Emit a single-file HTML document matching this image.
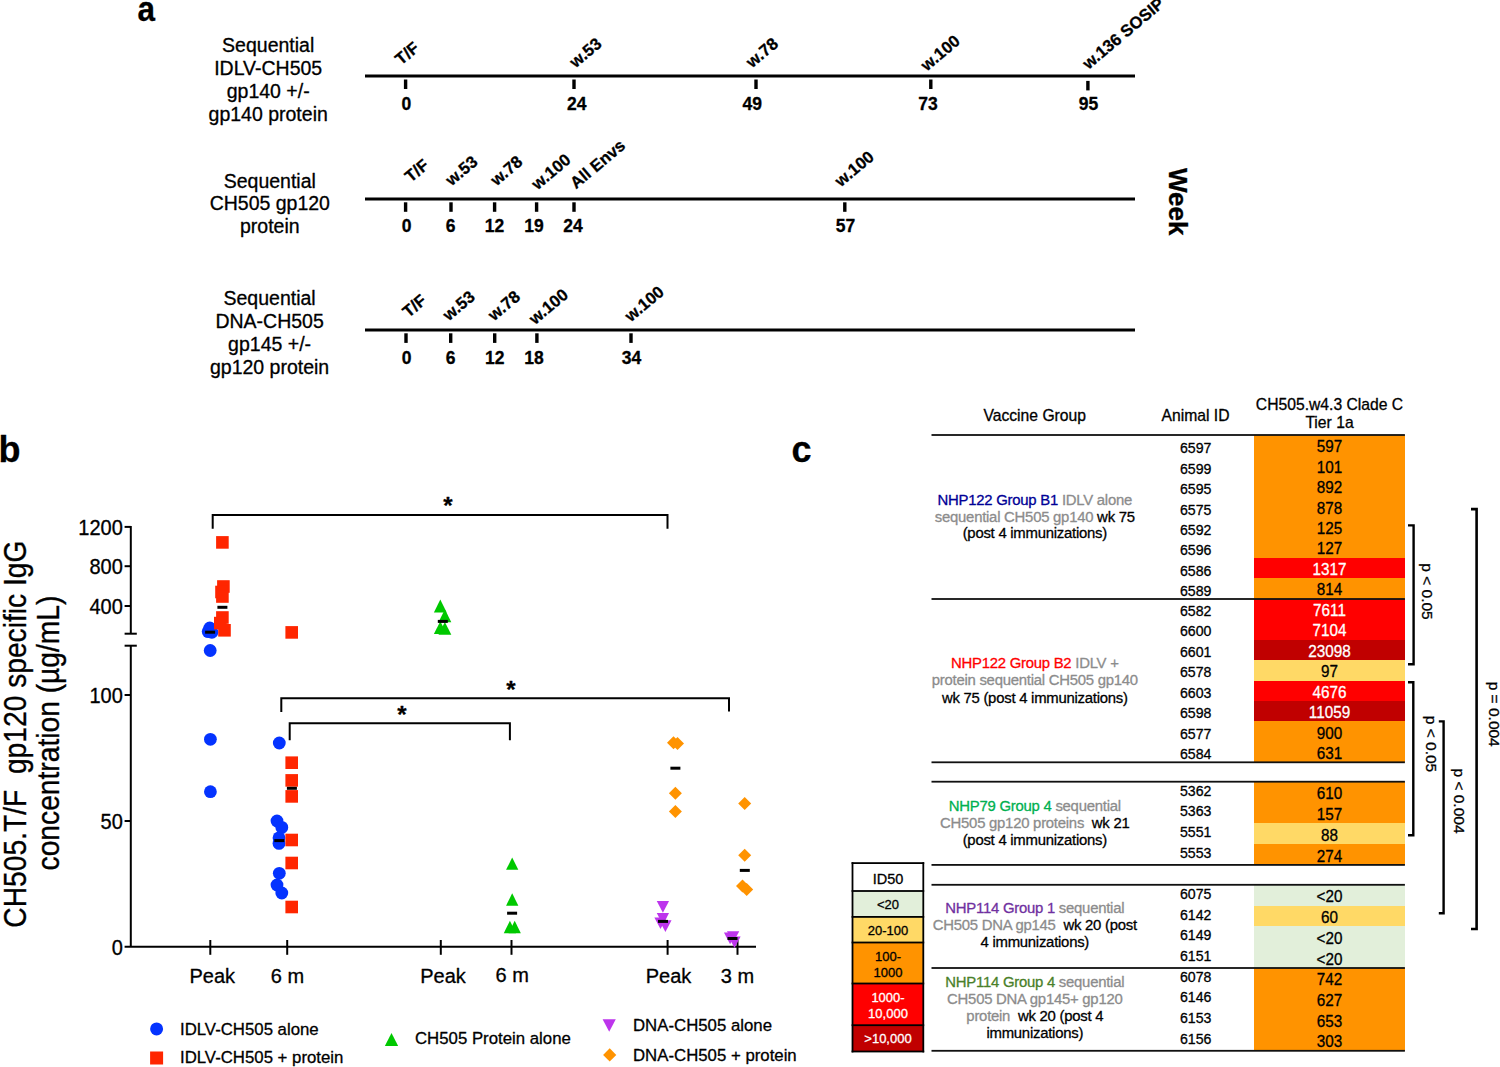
<!DOCTYPE html>
<html><head><meta charset="utf-8"><title>Figure</title>
<style>
html,body{margin:0;padding:0;background:#fff;width:1500px;height:1067px;overflow:hidden}
svg{display:block}
text{font-family:"Liberation Sans", sans-serif;stroke-linejoin:round}
</style></head>
<body>
<svg width="1500" height="1067" viewBox="0 0 1500 1067">
<rect x="0" y="0" width="1500" height="1067" fill="#fff"/>
<text transform="translate(137.6,21.2) scale(0.9,1)" font-size="35" font-weight="bold" fill="#000" stroke="#000" stroke-width="0.3">a</text>
<text x="268.2" y="51.8" font-size="19.5" text-anchor="middle" font-weight="normal" fill="#000" stroke="#000" stroke-width="0.3" >Sequential</text>
<text x="268.2" y="74.9" font-size="19.5" text-anchor="middle" font-weight="normal" fill="#000" stroke="#000" stroke-width="0.3" >IDLV-CH505</text>
<text x="268.2" y="98.0" font-size="19.5" text-anchor="middle" font-weight="normal" fill="#000" stroke="#000" stroke-width="0.3" >gp140 +/-</text>
<text x="268.2" y="121.1" font-size="19.5" text-anchor="middle" font-weight="normal" fill="#000" stroke="#000" stroke-width="0.3" >gp140 protein</text>
<text x="269.8" y="187.7" font-size="19.5" text-anchor="middle" font-weight="normal" fill="#000" stroke="#000" stroke-width="0.3" >Sequential</text>
<text x="269.8" y="210.3" font-size="19.5" text-anchor="middle" font-weight="normal" fill="#000" stroke="#000" stroke-width="0.3" >CH505 gp120</text>
<text x="269.8" y="232.9" font-size="19.5" text-anchor="middle" font-weight="normal" fill="#000" stroke="#000" stroke-width="0.3" >protein</text>
<text x="269.6" y="304.6" font-size="19.5" text-anchor="middle" font-weight="normal" fill="#000" stroke="#000" stroke-width="0.3" >Sequential</text>
<text x="269.6" y="327.6" font-size="19.5" text-anchor="middle" font-weight="normal" fill="#000" stroke="#000" stroke-width="0.3" >DNA-CH505</text>
<text x="269.6" y="350.6" font-size="19.5" text-anchor="middle" font-weight="normal" fill="#000" stroke="#000" stroke-width="0.3" >gp145 +/-</text>
<text x="269.6" y="373.6" font-size="19.5" text-anchor="middle" font-weight="normal" fill="#000" stroke="#000" stroke-width="0.3" >gp120 protein</text>
<rect x="365" y="74.5" width="770" height="3" fill="#000"/>
<rect x="365" y="197.5" width="770" height="3" fill="#000"/>
<rect x="365" y="328.5" width="770" height="3" fill="#000"/>
<rect x="403.9" y="79.5" width="3.4" height="9.5" fill="#000"/>
<text x="406.3" y="110.4" font-size="17.5" text-anchor="middle" font-weight="bold" fill="#000" stroke="#000" stroke-width="0.3" >0</text>
<text transform="translate(401.1,65.8) rotate(-40)" font-size="16.7" text-anchor="start" font-weight="bold" fill="#000" stroke="#000" stroke-width="0.3">T/F</text>
<rect x="572.3" y="79.5" width="3.4" height="9.5" fill="#000"/>
<text x="576.7" y="110.4" font-size="17.5" text-anchor="middle" font-weight="bold" fill="#000" stroke="#000" stroke-width="0.3" >24</text>
<text transform="translate(575.6,68.5) rotate(-40)" font-size="16.7" text-anchor="start" font-weight="bold" fill="#000" stroke="#000" stroke-width="0.3">w.53</text>
<rect x="754.3" y="79.5" width="3.4" height="9.5" fill="#000"/>
<text x="752.2" y="110.4" font-size="17.5" text-anchor="middle" font-weight="bold" fill="#000" stroke="#000" stroke-width="0.3" >49</text>
<text transform="translate(752.1,68.5) rotate(-40)" font-size="16.7" text-anchor="start" font-weight="bold" fill="#000" stroke="#000" stroke-width="0.3">w.78</text>
<rect x="929.1" y="79.5" width="3.4" height="9.5" fill="#000"/>
<text x="928" y="110.4" font-size="17.5" text-anchor="middle" font-weight="bold" fill="#000" stroke="#000" stroke-width="0.3" >73</text>
<text transform="translate(926.8,71.7) rotate(-40)" font-size="16.7" text-anchor="start" font-weight="bold" fill="#000" stroke="#000" stroke-width="0.3">w.100</text>
<rect x="1086.2" y="80.9" width="3.4" height="9.5" fill="#000"/>
<text x="1088.5" y="110.4" font-size="17.5" text-anchor="middle" font-weight="bold" fill="#000" stroke="#000" stroke-width="0.3" >95</text>
<text transform="translate(1088.4,70) rotate(-40)" font-size="16.7" text-anchor="start" font-weight="bold" fill="#000" stroke="#000" stroke-width="0.3">w.136 SOSIP</text>
<rect x="403.9" y="202.3" width="3.4" height="9.5" fill="#000"/>
<text x="406.5" y="232.4" font-size="17.5" text-anchor="middle" font-weight="bold" fill="#000" stroke="#000" stroke-width="0.3" >0</text>
<text transform="translate(410.8,183.1) rotate(-40)" font-size="16.7" text-anchor="start" font-weight="bold" fill="#000" stroke="#000" stroke-width="0.3">T/F</text>
<rect x="449.3" y="202.3" width="3.4" height="9.5" fill="#000"/>
<text x="450.5" y="232.4" font-size="17.5" text-anchor="middle" font-weight="bold" fill="#000" stroke="#000" stroke-width="0.3" >6</text>
<text transform="translate(451.6,186.5) rotate(-40)" font-size="16.7" text-anchor="start" font-weight="bold" fill="#000" stroke="#000" stroke-width="0.3">w.53</text>
<rect x="492.9" y="202.3" width="3.4" height="9.5" fill="#000"/>
<text x="494.6" y="232.4" font-size="17.5" text-anchor="middle" font-weight="bold" fill="#000" stroke="#000" stroke-width="0.3" >12</text>
<text transform="translate(496.4,186.5) rotate(-40)" font-size="16.7" text-anchor="start" font-weight="bold" fill="#000" stroke="#000" stroke-width="0.3">w.78</text>
<rect x="534.9" y="202.3" width="3.4" height="9.5" fill="#000"/>
<text x="534" y="232.4" font-size="17.5" text-anchor="middle" font-weight="bold" fill="#000" stroke="#000" stroke-width="0.3" >19</text>
<text transform="translate(537.6,190.4) rotate(-40)" font-size="16.7" text-anchor="start" font-weight="bold" fill="#000" stroke="#000" stroke-width="0.3">w.100</text>
<rect x="572.3" y="202.3" width="3.4" height="9.5" fill="#000"/>
<text x="573" y="232.4" font-size="17.5" text-anchor="middle" font-weight="bold" fill="#000" stroke="#000" stroke-width="0.3" >24</text>
<text transform="translate(576,189.6) rotate(-40)" font-size="16.7" text-anchor="start" font-weight="bold" fill="#000" stroke="#000" stroke-width="0.3">All Envs</text>
<rect x="843.1" y="202.3" width="3.4" height="9.5" fill="#000"/>
<text x="845.6" y="232.4" font-size="17.5" text-anchor="middle" font-weight="bold" fill="#000" stroke="#000" stroke-width="0.3" >57</text>
<text transform="translate(840.8,187.5) rotate(-40)" font-size="16.7" text-anchor="start" font-weight="bold" fill="#000" stroke="#000" stroke-width="0.3">w.100</text>
<rect x="404.3" y="333.3" width="3.4" height="9.6" fill="#000"/>
<text x="406.5" y="364" font-size="17.5" text-anchor="middle" font-weight="bold" fill="#000" stroke="#000" stroke-width="0.3" >0</text>
<text transform="translate(408.4,318.2) rotate(-40)" font-size="16.7" text-anchor="start" font-weight="bold" fill="#000" stroke="#000" stroke-width="0.3">T/F</text>
<rect x="449.0" y="333.3" width="3.4" height="9.6" fill="#000"/>
<text x="450.5" y="364" font-size="17.5" text-anchor="middle" font-weight="bold" fill="#000" stroke="#000" stroke-width="0.3" >6</text>
<text transform="translate(448.8,321.4) rotate(-40)" font-size="16.7" text-anchor="start" font-weight="bold" fill="#000" stroke="#000" stroke-width="0.3">w.53</text>
<rect x="493.0" y="333.3" width="3.4" height="9.6" fill="#000"/>
<text x="494.7" y="364" font-size="17.5" text-anchor="middle" font-weight="bold" fill="#000" stroke="#000" stroke-width="0.3" >12</text>
<text transform="translate(494.1,321.4) rotate(-40)" font-size="16.7" text-anchor="start" font-weight="bold" fill="#000" stroke="#000" stroke-width="0.3">w.78</text>
<rect x="535.2" y="333.3" width="3.4" height="9.6" fill="#000"/>
<text x="534" y="364" font-size="17.5" text-anchor="middle" font-weight="bold" fill="#000" stroke="#000" stroke-width="0.3" >18</text>
<text transform="translate(534.9,325.3) rotate(-40)" font-size="16.7" text-anchor="start" font-weight="bold" fill="#000" stroke="#000" stroke-width="0.3">w.100</text>
<rect x="629.3" y="333.3" width="3.4" height="9.6" fill="#000"/>
<text x="631.5" y="364" font-size="17.5" text-anchor="middle" font-weight="bold" fill="#000" stroke="#000" stroke-width="0.3" >34</text>
<text transform="translate(630.8,322.5) rotate(-40)" font-size="16.7" text-anchor="start" font-weight="bold" fill="#000" stroke="#000" stroke-width="0.3">w.100</text>
<text transform="translate(1168.5,168) rotate(90)" font-size="26" text-anchor="start" font-weight="bold" fill="#000" stroke="#000" stroke-width="0.3">Week</text>
<text x="-1.5" y="461.5" font-size="36" text-anchor="start" font-weight="bold" fill="#000" stroke="#000" stroke-width="0.3" >b</text>
<line x1="130.8" y1="526" x2="130.8" y2="633.7" stroke="#000" stroke-width="2" stroke-linecap="butt"/>
<line x1="124.6" y1="526.9" x2="130.8" y2="526.9" stroke="#000" stroke-width="2" stroke-linecap="butt"/>
<line x1="124.6" y1="566.2" x2="130.8" y2="566.2" stroke="#000" stroke-width="2" stroke-linecap="butt"/>
<line x1="124.6" y1="606" x2="130.8" y2="606" stroke="#000" stroke-width="2" stroke-linecap="butt"/>
<line x1="124.6" y1="633.7" x2="136.8" y2="633.7" stroke="#000" stroke-width="2" stroke-linecap="butt"/>
<line x1="124.6" y1="645.7" x2="136.8" y2="645.7" stroke="#000" stroke-width="2" stroke-linecap="butt"/>
<line x1="130.8" y1="645.7" x2="130.8" y2="947" stroke="#000" stroke-width="2" stroke-linecap="butt"/>
<line x1="124.6" y1="695" x2="130.8" y2="695" stroke="#000" stroke-width="2" stroke-linecap="butt"/>
<line x1="124.6" y1="821" x2="130.8" y2="821" stroke="#000" stroke-width="2" stroke-linecap="butt"/>
<line x1="124.6" y1="946.7" x2="756" y2="946.7" stroke="#000" stroke-width="2" stroke-linecap="butt"/>
<line x1="210.3" y1="940" x2="210.3" y2="954.8" stroke="#000" stroke-width="2" stroke-linecap="butt"/>
<line x1="287.2" y1="940" x2="287.2" y2="954.8" stroke="#000" stroke-width="2" stroke-linecap="butt"/>
<line x1="440.8" y1="940" x2="440.8" y2="954.8" stroke="#000" stroke-width="2" stroke-linecap="butt"/>
<line x1="511.5" y1="940" x2="511.5" y2="954.8" stroke="#000" stroke-width="2" stroke-linecap="butt"/>
<line x1="667.6" y1="940" x2="667.6" y2="954.8" stroke="#000" stroke-width="2" stroke-linecap="butt"/>
<line x1="737.5" y1="940" x2="737.5" y2="954.8" stroke="#000" stroke-width="2" stroke-linecap="butt"/>
<text transform="translate(122.8,534.90) scale(1,1.07)" font-size="20" text-anchor="end" stroke="#000" stroke-width="0.3">1200</text>
<text transform="translate(122.8,574.20) scale(1,1.07)" font-size="20" text-anchor="end" stroke="#000" stroke-width="0.3">800</text>
<text transform="translate(122.8,614.00) scale(1,1.07)" font-size="20" text-anchor="end" stroke="#000" stroke-width="0.3">400</text>
<text transform="translate(122.8,703.00) scale(1,1.07)" font-size="20" text-anchor="end" stroke="#000" stroke-width="0.3">100</text>
<text transform="translate(122.8,829.00) scale(1,1.07)" font-size="20" text-anchor="end" stroke="#000" stroke-width="0.3">50</text>
<text transform="translate(122.8,954.50) scale(1,1.07)" font-size="20" text-anchor="end" stroke="#000" stroke-width="0.3">0</text>
<text x="212.3" y="983" font-size="20" text-anchor="middle" font-weight="normal" fill="#000" stroke="#000" stroke-width="0.3" >Peak</text>
<text x="287.5" y="983" font-size="20" text-anchor="middle" font-weight="normal" fill="#000" stroke="#000" stroke-width="0.3" >6 m</text>
<text x="443" y="983" font-size="20" text-anchor="middle" font-weight="normal" fill="#000" stroke="#000" stroke-width="0.3" >Peak</text>
<text x="512.2" y="981.5" font-size="20" text-anchor="middle" font-weight="normal" fill="#000" stroke="#000" stroke-width="0.3" >6 m</text>
<text x="668.5" y="983" font-size="20" text-anchor="middle" font-weight="normal" fill="#000" stroke="#000" stroke-width="0.3" >Peak</text>
<text x="737.5" y="983" font-size="20" text-anchor="middle" font-weight="normal" fill="#000" stroke="#000" stroke-width="0.3" >3 m</text>
<text transform="translate(26.4,734.1) rotate(-90) scale(0.91,1)" font-size="31" text-anchor="middle" stroke="#000" stroke-width="0.35">CH505.T/F&#160;&#160;gp120 specific IgG</text>
<text transform="translate(58.8,733) rotate(-90) scale(0.91,1)" font-size="31" text-anchor="middle" stroke="#000" stroke-width="0.35">concentration (µg/mL)</text>
<circle cx="209.8" cy="628" r="6.4" fill="#0433FF"/>
<circle cx="208.2" cy="631.6" r="6.4" fill="#0433FF"/>
<circle cx="211.9" cy="632.3" r="6.4" fill="#0433FF"/>
<circle cx="210.2" cy="650.5" r="6.4" fill="#0433FF"/>
<circle cx="210.4" cy="739.3" r="6.4" fill="#0433FF"/>
<circle cx="210.4" cy="791.7" r="6.4" fill="#0433FF"/>
<rect x="216.1" y="536.1" width="12.6" height="12.6" fill="#FF2600"/>
<rect x="217.1" y="580.2" width="12.6" height="12.6" fill="#FF2600"/>
<rect x="215.2" y="585.7" width="12.6" height="12.6" fill="#FF2600"/>
<rect x="216.1" y="590.2" width="12.6" height="12.6" fill="#FF2600"/>
<rect x="216.1" y="611.2" width="12.6" height="12.6" fill="#FF2600"/>
<rect x="214.0" y="616.8" width="12.6" height="12.6" fill="#FF2600"/>
<rect x="218.2" y="624.0" width="12.6" height="12.6" fill="#FF2600"/>
<rect x="217.4" y="605.8" width="10" height="3" fill="#000"/>
<rect x="205.1" y="630.7" width="10" height="3" fill="#000"/>
<circle cx="279.3" cy="743" r="6.4" fill="#0433FF"/>
<circle cx="277" cy="821" r="6.4" fill="#0433FF"/>
<circle cx="281.8" cy="827.4" r="6.4" fill="#0433FF"/>
<circle cx="279" cy="837.8" r="6.4" fill="#0433FF"/>
<circle cx="279" cy="843.4" r="6.4" fill="#0433FF"/>
<circle cx="279.3" cy="873.3" r="6.4" fill="#0433FF"/>
<circle cx="277" cy="885" r="6.4" fill="#0433FF"/>
<circle cx="281.8" cy="893" r="6.4" fill="#0433FF"/>
<rect x="285.4" y="626.1" width="12.6" height="12.6" fill="#FF2600"/>
<rect x="285.4" y="756.4" width="12.6" height="12.6" fill="#FF2600"/>
<rect x="285.4" y="774.1" width="12.6" height="12.6" fill="#FF2600"/>
<rect x="285.4" y="790.1" width="12.6" height="12.6" fill="#FF2600"/>
<rect x="285.4" y="833.7" width="12.6" height="12.6" fill="#FF2600"/>
<rect x="285.4" y="856.7" width="12.6" height="12.6" fill="#FF2600"/>
<rect x="285.4" y="900.7" width="12.6" height="12.6" fill="#FF2600"/>
<rect x="274.3" y="839.1" width="10" height="3" fill="#000"/>
<rect x="286.9" y="786.8" width="10" height="3" fill="#000"/>
<polygon points="440.30,599.60 446.70,612.50 433.90,612.50" fill="#00C800"/>
<polygon points="444.90,609.30 451.30,622.20 438.50,622.20" fill="#00C800"/>
<polygon points="440.30,621.20 446.70,634.10 433.90,634.10" fill="#00C800"/>
<polygon points="444.90,621.90 451.30,634.80 438.50,634.80" fill="#00C800"/>
<rect x="437.8" y="619.9" width="10" height="3" fill="#000"/>
<polygon points="512.20,857.55 518.35,869.85 506.05,869.85" fill="#00C800"/>
<polygon points="512.20,893.35 518.35,905.65 506.05,905.65" fill="#00C800"/>
<polygon points="509.90,920.85 516.05,933.15 503.75,933.15" fill="#00C800"/>
<polygon points="514.70,920.85 520.85,933.15 508.55,933.15" fill="#00C800"/>
<rect x="507.1" y="911.7" width="10" height="3" fill="#000"/>
<polygon points="656.75,901.10 669.05,901.10 662.90,912.70" fill="#BD35EC"/>
<polygon points="656.75,913.10 669.05,913.10 662.90,924.70" fill="#BD35EC"/>
<polygon points="654.35,917.50 666.65,917.50 660.50,929.10" fill="#BD35EC"/>
<polygon points="659.25,920.30 671.55,920.30 665.40,931.90" fill="#BD35EC"/>
<rect x="658.0" y="919.9" width="10" height="3" fill="#000"/>
<polygon points="673.50,736.20 680.00,742.70 673.50,749.20 667.00,742.70" fill="#FF9300"/>
<polygon points="677.50,737.00 684.00,743.50 677.50,750.00 671.00,743.50" fill="#FF9300"/>
<polygon points="675.40,786.80 681.90,793.30 675.40,799.80 668.90,793.30" fill="#FF9300"/>
<polygon points="675.40,804.90 681.90,811.40 675.40,817.90 668.90,811.40" fill="#FF9300"/>
<rect x="670.4" y="766.7" width="10" height="3" fill="#000"/>
<polygon points="726.95,931.20 739.25,931.20 733.10,942.80" fill="#BD35EC"/>
<polygon points="723.95,932.60 736.25,932.60 730.10,944.20" fill="#BD35EC"/>
<polygon points="728.35,936.50 740.65,936.50 734.50,948.10" fill="#BD35EC"/>
<rect x="727.5" y="937.0" width="10" height="3" fill="#000"/>
<polygon points="744.70,797.00 751.20,803.50 744.70,810.00 738.20,803.50" fill="#FF9300"/>
<polygon points="744.70,848.70 751.20,855.20 744.70,861.70 738.20,855.20" fill="#FF9300"/>
<polygon points="742.50,879.40 749.00,885.90 742.50,892.40 736.00,885.90" fill="#FF9300"/>
<polygon points="746.70,883.10 753.20,889.60 746.70,896.10 740.20,889.60" fill="#FF9300"/>
<rect x="739.8" y="868.9" width="10" height="3" fill="#000"/>
<path d="M212.7,528.7 V515 H667.5 V528.7" fill="none" stroke="#000" stroke-width="2" stroke-linejoin="miter" stroke-linecap="butt"/>
<text x="447.8" y="514.2" font-size="24" text-anchor="middle" font-weight="bold" fill="#000" stroke="#000" stroke-width="0.3" >*</text>
<path d="M281.3,712 V698.3 H729 V711.6" fill="none" stroke="#000" stroke-width="2" stroke-linejoin="miter" stroke-linecap="butt"/>
<text x="511" y="698.2" font-size="24" text-anchor="middle" font-weight="bold" fill="#000" stroke="#000" stroke-width="0.3" >*</text>
<path d="M289.7,740.3 V723.3 H509.9 V740.3" fill="none" stroke="#000" stroke-width="2" stroke-linejoin="miter" stroke-linecap="butt"/>
<text x="401.8" y="723.2" font-size="24" text-anchor="middle" font-weight="bold" fill="#000" stroke="#000" stroke-width="0.3" >*</text>
<circle cx="156.6" cy="1028.9" r="6.5" fill="#0433FF"/>
<text x="180" y="1034.5" font-size="16.8" text-anchor="start" font-weight="normal" fill="#000" stroke="#000" stroke-width="0.3" >IDLV-CH505 alone</text>
<rect x="150.1" y="1051.5" width="13" height="13" fill="#FF2600"/>
<text x="180" y="1062.9" font-size="16.8" text-anchor="start" font-weight="normal" fill="#000" stroke="#000" stroke-width="0.3" >IDLV-CH505 + protein</text>
<polygon points="391.50,1033.00 398.15,1046.00 384.85,1046.00" fill="#00C800"/>
<text x="415" y="1044.4" font-size="16.8" text-anchor="start" font-weight="normal" fill="#000" stroke="#000" stroke-width="0.3" >CH505 Protein alone</text>
<polygon points="602.60,1019.15 615.80,1019.15 609.20,1031.65" fill="#BD35EC"/>
<text x="633" y="1031.3" font-size="16.8" text-anchor="start" font-weight="normal" fill="#000" stroke="#000" stroke-width="0.3" >DNA-CH505 alone</text>
<polygon points="609.70,1048.30 616.30,1054.90 609.70,1061.50 603.10,1054.90" fill="#FF9300"/>
<text x="633" y="1060.8" font-size="16.8" text-anchor="start" font-weight="normal" fill="#000" stroke="#000" stroke-width="0.3" >DNA-CH505 + protein</text>
<text x="791.5" y="462.1" font-size="36" text-anchor="start" font-weight="bold" fill="#000" stroke="#000" stroke-width="0.3" >c</text>
<text x="1034.7" y="420.7" font-size="15.7" text-anchor="middle" font-weight="normal" fill="#000" stroke="#000" stroke-width="0.3" >Vaccine Group</text>
<text x="1195.5" y="420.6" font-size="15.7" text-anchor="middle" font-weight="normal" fill="#000" stroke="#000" stroke-width="0.3" >Animal ID</text>
<text x="1329.5" y="409.8" font-size="15.7" text-anchor="middle" font-weight="normal" fill="#000" stroke="#000" stroke-width="0.3" >CH505.w4.3 Clade C</text>
<text x="1329.5" y="428.3" font-size="15.7" text-anchor="middle" font-weight="normal" fill="#000" stroke="#000" stroke-width="0.3" >Tier 1a</text>
<rect x="1254.2" y="434.80" width="150.70" height="122.93" fill="#FF9300" shape-rendering="crispEdges"/>
<rect x="1254.2" y="557.73" width="150.70" height="20.49" fill="#FF0000" shape-rendering="crispEdges"/>
<rect x="1254.2" y="578.21" width="150.70" height="20.49" fill="#FF9300" shape-rendering="crispEdges"/>
<text transform="translate(1195.65,453.04) scale(0.925,1)" font-size="15.3" text-anchor="middle" stroke="#000" stroke-width="0.3">6597</text>
<text transform="translate(1329.5,452.04) scale(0.92,1)" font-size="16.6" text-anchor="middle" fill="#000" stroke="#000" stroke-width="0.3">597</text>
<text transform="translate(1195.65,473.53) scale(0.925,1)" font-size="15.3" text-anchor="middle" stroke="#000" stroke-width="0.3">6599</text>
<text transform="translate(1329.5,472.53) scale(0.92,1)" font-size="16.6" text-anchor="middle" fill="#000" stroke="#000" stroke-width="0.3">101</text>
<text transform="translate(1195.65,494.02) scale(0.925,1)" font-size="15.3" text-anchor="middle" stroke="#000" stroke-width="0.3">6595</text>
<text transform="translate(1329.5,493.02) scale(0.92,1)" font-size="16.6" text-anchor="middle" fill="#000" stroke="#000" stroke-width="0.3">892</text>
<text transform="translate(1195.65,514.51) scale(0.925,1)" font-size="15.3" text-anchor="middle" stroke="#000" stroke-width="0.3">6575</text>
<text transform="translate(1329.5,513.51) scale(0.92,1)" font-size="16.6" text-anchor="middle" fill="#000" stroke="#000" stroke-width="0.3">878</text>
<text transform="translate(1195.65,534.99) scale(0.925,1)" font-size="15.3" text-anchor="middle" stroke="#000" stroke-width="0.3">6592</text>
<text transform="translate(1329.5,533.99) scale(0.92,1)" font-size="16.6" text-anchor="middle" fill="#000" stroke="#000" stroke-width="0.3">125</text>
<text transform="translate(1195.65,555.48) scale(0.925,1)" font-size="15.3" text-anchor="middle" stroke="#000" stroke-width="0.3">6596</text>
<text transform="translate(1329.5,554.48) scale(0.92,1)" font-size="16.6" text-anchor="middle" fill="#000" stroke="#000" stroke-width="0.3">127</text>
<text transform="translate(1195.65,575.97) scale(0.925,1)" font-size="15.3" text-anchor="middle" stroke="#000" stroke-width="0.3">6586</text>
<text transform="translate(1329.5,574.97) scale(0.92,1)" font-size="16.6" text-anchor="middle" fill="#fff" stroke="#fff" stroke-width="0.3">1317</text>
<text transform="translate(1195.65,596.46) scale(0.925,1)" font-size="15.3" text-anchor="middle" stroke="#000" stroke-width="0.3">6589</text>
<text transform="translate(1329.5,595.46) scale(0.92,1)" font-size="16.6" text-anchor="middle" fill="#000" stroke="#000" stroke-width="0.3">814</text>
<rect x="1254.2" y="598.70" width="150.70" height="40.90" fill="#FF0000" shape-rendering="crispEdges"/>
<rect x="1254.2" y="639.60" width="150.70" height="20.45" fill="#C00000" shape-rendering="crispEdges"/>
<rect x="1254.2" y="660.05" width="150.70" height="20.45" fill="#FFD966" shape-rendering="crispEdges"/>
<rect x="1254.2" y="680.50" width="150.70" height="20.45" fill="#FF0000" shape-rendering="crispEdges"/>
<rect x="1254.2" y="700.95" width="150.70" height="20.45" fill="#C00000" shape-rendering="crispEdges"/>
<rect x="1254.2" y="721.40" width="150.70" height="40.90" fill="#FF9300" shape-rendering="crispEdges"/>
<text transform="translate(1195.65,616.03) scale(0.925,1)" font-size="15.3" text-anchor="middle" stroke="#000" stroke-width="0.3">6582</text>
<text transform="translate(1329.5,615.93) scale(0.92,1)" font-size="16.6" text-anchor="middle" fill="#fff" stroke="#fff" stroke-width="0.3">7611</text>
<text transform="translate(1195.65,636.48) scale(0.925,1)" font-size="15.3" text-anchor="middle" stroke="#000" stroke-width="0.3">6600</text>
<text transform="translate(1329.5,636.38) scale(0.92,1)" font-size="16.6" text-anchor="middle" fill="#fff" stroke="#fff" stroke-width="0.3">7104</text>
<text transform="translate(1195.65,656.93) scale(0.925,1)" font-size="15.3" text-anchor="middle" stroke="#000" stroke-width="0.3">6601</text>
<text transform="translate(1329.5,656.83) scale(0.92,1)" font-size="16.6" text-anchor="middle" fill="#fff" stroke="#fff" stroke-width="0.3">23098</text>
<text transform="translate(1195.65,677.38) scale(0.925,1)" font-size="15.3" text-anchor="middle" stroke="#000" stroke-width="0.3">6578</text>
<text transform="translate(1329.5,677.27) scale(0.92,1)" font-size="16.6" text-anchor="middle" fill="#000" stroke="#000" stroke-width="0.3">97</text>
<text transform="translate(1195.65,697.83) scale(0.925,1)" font-size="15.3" text-anchor="middle" stroke="#000" stroke-width="0.3">6603</text>
<text transform="translate(1329.5,697.73) scale(0.92,1)" font-size="16.6" text-anchor="middle" fill="#fff" stroke="#fff" stroke-width="0.3">4676</text>
<text transform="translate(1195.65,718.27) scale(0.925,1)" font-size="15.3" text-anchor="middle" stroke="#000" stroke-width="0.3">6598</text>
<text transform="translate(1329.5,718.17) scale(0.92,1)" font-size="16.6" text-anchor="middle" fill="#fff" stroke="#fff" stroke-width="0.3">11059</text>
<text transform="translate(1195.65,738.73) scale(0.925,1)" font-size="15.3" text-anchor="middle" stroke="#000" stroke-width="0.3">6577</text>
<text transform="translate(1329.5,738.62) scale(0.92,1)" font-size="16.6" text-anchor="middle" fill="#000" stroke="#000" stroke-width="0.3">900</text>
<text transform="translate(1195.65,759.17) scale(0.925,1)" font-size="15.3" text-anchor="middle" stroke="#000" stroke-width="0.3">6584</text>
<text transform="translate(1329.5,759.07) scale(0.92,1)" font-size="16.6" text-anchor="middle" fill="#000" stroke="#000" stroke-width="0.3">631</text>
<rect x="1254.2" y="781.70" width="150.70" height="41.60" fill="#FF9300" shape-rendering="crispEdges"/>
<rect x="1254.2" y="823.30" width="150.70" height="20.80" fill="#FFD966" shape-rendering="crispEdges"/>
<rect x="1254.2" y="844.10" width="150.70" height="20.80" fill="#FF9300" shape-rendering="crispEdges"/>
<text transform="translate(1195.65,795.60) scale(0.925,1)" font-size="15.3" text-anchor="middle" stroke="#000" stroke-width="0.3">5362</text>
<text transform="translate(1329.5,799.10) scale(0.92,1)" font-size="16.6" text-anchor="middle" fill="#000" stroke="#000" stroke-width="0.3">610</text>
<text transform="translate(1195.65,816.40) scale(0.925,1)" font-size="15.3" text-anchor="middle" stroke="#000" stroke-width="0.3">5363</text>
<text transform="translate(1329.5,819.90) scale(0.92,1)" font-size="16.6" text-anchor="middle" fill="#000" stroke="#000" stroke-width="0.3">157</text>
<text transform="translate(1195.65,837.20) scale(0.925,1)" font-size="15.3" text-anchor="middle" stroke="#000" stroke-width="0.3">5551</text>
<text transform="translate(1329.5,840.70) scale(0.92,1)" font-size="16.6" text-anchor="middle" fill="#000" stroke="#000" stroke-width="0.3">88</text>
<text transform="translate(1195.65,858.00) scale(0.925,1)" font-size="15.3" text-anchor="middle" stroke="#000" stroke-width="0.3">5553</text>
<text transform="translate(1329.5,861.50) scale(0.92,1)" font-size="16.6" text-anchor="middle" fill="#000" stroke="#000" stroke-width="0.3">274</text>
<rect x="1254.2" y="884.80" width="150.70" height="20.80" fill="#E2EFDA" shape-rendering="crispEdges"/>
<rect x="1254.2" y="905.60" width="150.70" height="20.80" fill="#FFD966" shape-rendering="crispEdges"/>
<rect x="1254.2" y="926.40" width="150.70" height="41.60" fill="#E2EFDA" shape-rendering="crispEdges"/>
<text transform="translate(1195.65,898.70) scale(0.925,1)" font-size="15.3" text-anchor="middle" stroke="#000" stroke-width="0.3">6075</text>
<text transform="translate(1329.5,902.20) scale(0.92,1)" font-size="16.6" text-anchor="middle" fill="#000" stroke="#000" stroke-width="0.3">&lt;20</text>
<text transform="translate(1195.65,919.50) scale(0.925,1)" font-size="15.3" text-anchor="middle" stroke="#000" stroke-width="0.3">6142</text>
<text transform="translate(1329.5,923.00) scale(0.92,1)" font-size="16.6" text-anchor="middle" fill="#000" stroke="#000" stroke-width="0.3">60</text>
<text transform="translate(1195.65,940.30) scale(0.925,1)" font-size="15.3" text-anchor="middle" stroke="#000" stroke-width="0.3">6149</text>
<text transform="translate(1329.5,943.80) scale(0.92,1)" font-size="16.6" text-anchor="middle" fill="#000" stroke="#000" stroke-width="0.3">&lt;20</text>
<text transform="translate(1195.65,961.10) scale(0.925,1)" font-size="15.3" text-anchor="middle" stroke="#000" stroke-width="0.3">6151</text>
<text transform="translate(1329.5,964.60) scale(0.92,1)" font-size="16.6" text-anchor="middle" fill="#000" stroke="#000" stroke-width="0.3">&lt;20</text>
<rect x="1254.2" y="968.00" width="150.70" height="82.60" fill="#FF9300" shape-rendering="crispEdges"/>
<text transform="translate(1195.65,981.62) scale(0.925,1)" font-size="15.3" text-anchor="middle" stroke="#000" stroke-width="0.3">6078</text>
<text transform="translate(1329.5,985.33) scale(0.92,1)" font-size="16.6" text-anchor="middle" fill="#000" stroke="#000" stroke-width="0.3">742</text>
<text transform="translate(1195.65,1002.27) scale(0.925,1)" font-size="15.3" text-anchor="middle" stroke="#000" stroke-width="0.3">6146</text>
<text transform="translate(1329.5,1005.97) scale(0.92,1)" font-size="16.6" text-anchor="middle" fill="#000" stroke="#000" stroke-width="0.3">627</text>
<text transform="translate(1195.65,1022.92) scale(0.925,1)" font-size="15.3" text-anchor="middle" stroke="#000" stroke-width="0.3">6153</text>
<text transform="translate(1329.5,1026.62) scale(0.92,1)" font-size="16.6" text-anchor="middle" fill="#000" stroke="#000" stroke-width="0.3">653</text>
<text transform="translate(1195.65,1043.57) scale(0.925,1)" font-size="15.3" text-anchor="middle" stroke="#000" stroke-width="0.3">6156</text>
<text transform="translate(1329.5,1047.27) scale(0.92,1)" font-size="16.6" text-anchor="middle" fill="#000" stroke="#000" stroke-width="0.3">303</text>
<rect x="931.5" y="434.1" width="473.4000000000001" height="1.8" fill="#111"/>
<rect x="931.5" y="598.1" width="473.4000000000001" height="1.8" fill="#111"/>
<rect x="931.5" y="761.4" width="473.4000000000001" height="1.8" fill="#111"/>
<rect x="931.5" y="780.8" width="473.4000000000001" height="1.8" fill="#111"/>
<rect x="931.5" y="864.0" width="473.4000000000001" height="1.8" fill="#111"/>
<rect x="931.5" y="883.9" width="473.4000000000001" height="1.8" fill="#111"/>
<rect x="931.5" y="967.1" width="473.4000000000001" height="1.8" fill="#111"/>
<rect x="931.5" y="1049.9" width="473.4000000000001" height="1.8" fill="#111"/>
<text x="1034.8" y="505.1" font-size="14.9" letter-spacing="-0.25" text-anchor="middle" xml:space="preserve"><tspan fill="#000096" stroke="#000096" stroke-width="0.3">NHP122 Group B1</tspan><tspan fill="#8C8C8C" stroke="#8C8C8C" stroke-width="0.3"> IDLV alone</tspan></text>
<text x="1034.8" y="521.7" font-size="14.9" letter-spacing="-0.25" text-anchor="middle" xml:space="preserve"><tspan fill="#8C8C8C" stroke="#8C8C8C" stroke-width="0.3">sequential CH505 gp140</tspan><tspan fill="#000" stroke="#000" stroke-width="0.3"> wk 75</tspan></text>
<text x="1034.8" y="538.3" font-size="14.9" letter-spacing="-0.25" text-anchor="middle" xml:space="preserve"><tspan fill="#000" stroke="#000" stroke-width="0.3">(post 4 immunizations)</tspan></text>
<text x="1034.8" y="667.9" font-size="14.9" letter-spacing="-0.25" text-anchor="middle" xml:space="preserve"><tspan fill="#FF0000" stroke="#FF0000" stroke-width="0.3">NHP122 Group B2</tspan><tspan fill="#8C8C8C" stroke="#8C8C8C" stroke-width="0.3"> IDLV +</tspan></text>
<text x="1034.8" y="685.2" font-size="14.9" letter-spacing="-0.25" text-anchor="middle" xml:space="preserve"><tspan fill="#8C8C8C" stroke="#8C8C8C" stroke-width="0.3">protein sequential CH505 gp140</tspan></text>
<text x="1034.8" y="702.5" font-size="14.9" letter-spacing="-0.25" text-anchor="middle" xml:space="preserve"><tspan fill="#000" stroke="#000" stroke-width="0.3">wk 75 (post 4 immunizations)</tspan></text>
<text x="1034.8" y="811.3" font-size="14.9" letter-spacing="-0.25" text-anchor="middle" xml:space="preserve"><tspan fill="#00B050" stroke="#00B050" stroke-width="0.3">NHP79 Group 4</tspan><tspan fill="#8C8C8C" stroke="#8C8C8C" stroke-width="0.3"> sequential</tspan></text>
<text x="1034.8" y="828.3" font-size="14.9" letter-spacing="-0.25" text-anchor="middle" xml:space="preserve"><tspan fill="#8C8C8C" stroke="#8C8C8C" stroke-width="0.3">CH505 gp120 proteins</tspan><tspan fill="#000" stroke="#000" stroke-width="0.3">  wk 21</tspan></text>
<text x="1034.8" y="845.3" font-size="14.9" letter-spacing="-0.25" text-anchor="middle" xml:space="preserve"><tspan fill="#000" stroke="#000" stroke-width="0.3">(post 4 immunizations)</tspan></text>
<text x="1034.8" y="913.4" font-size="14.9" letter-spacing="-0.25" text-anchor="middle" xml:space="preserve"><tspan fill="#7030A0" stroke="#7030A0" stroke-width="0.3">NHP114 Group 1</tspan><tspan fill="#8C8C8C" stroke="#8C8C8C" stroke-width="0.3"> sequential</tspan></text>
<text x="1034.8" y="930.4" font-size="14.9" letter-spacing="-0.25" text-anchor="middle" xml:space="preserve"><tspan fill="#8C8C8C" stroke="#8C8C8C" stroke-width="0.3">CH505 DNA gp145</tspan><tspan fill="#000" stroke="#000" stroke-width="0.3">  wk 20 (post</tspan></text>
<text x="1034.8" y="947.4" font-size="14.9" letter-spacing="-0.25" text-anchor="middle" xml:space="preserve"><tspan fill="#000" stroke="#000" stroke-width="0.3">4 immunizations)</tspan></text>
<text x="1034.8" y="987.1" font-size="14.9" letter-spacing="-0.25" text-anchor="middle" xml:space="preserve"><tspan fill="#4A7F2A" stroke="#4A7F2A" stroke-width="0.3">NHP114 Group 4</tspan><tspan fill="#8C8C8C" stroke="#8C8C8C" stroke-width="0.3"> sequential</tspan></text>
<text x="1034.8" y="1004.1" font-size="14.9" letter-spacing="-0.25" text-anchor="middle" xml:space="preserve"><tspan fill="#8C8C8C" stroke="#8C8C8C" stroke-width="0.3">CH505 DNA gp145+ gp120</tspan></text>
<text x="1034.8" y="1021.1" font-size="14.9" letter-spacing="-0.25" text-anchor="middle" xml:space="preserve"><tspan fill="#8C8C8C" stroke="#8C8C8C" stroke-width="0.3">protein</tspan><tspan fill="#000" stroke="#000" stroke-width="0.3">  wk 20 (post 4</tspan></text>
<text x="1034.8" y="1038.1" font-size="14.9" letter-spacing="-0.25" text-anchor="middle" xml:space="preserve"><tspan fill="#000" stroke="#000" stroke-width="0.3">immunizations)</tspan></text>
<rect x="852.5" y="863.1" width="70.79999999999995" height="27.899999999999977" fill="#FFFFFF"/>
<rect x="852.5" y="891" width="70.79999999999995" height="25.899999999999977" fill="#E2EFDA"/>
<rect x="852.5" y="916.9" width="70.79999999999995" height="25.600000000000023" fill="#FFD966"/>
<rect x="852.5" y="942.5" width="70.79999999999995" height="41.0" fill="#FF9300"/>
<rect x="852.5" y="983.5" width="70.79999999999995" height="41.700000000000045" fill="#FF0000"/>
<rect x="852.5" y="1025.2" width="70.79999999999995" height="26.299999999999955" fill="#C00000"/>
<rect x="851.6" y="862.2" width="72.59999999999995" height="1.8" fill="#000"/>
<rect x="851.6" y="890.1" width="72.59999999999995" height="1.8" fill="#000"/>
<rect x="851.6" y="916.0" width="72.59999999999995" height="1.8" fill="#000"/>
<rect x="851.6" y="941.6" width="72.59999999999995" height="1.8" fill="#000"/>
<rect x="851.6" y="982.6" width="72.59999999999995" height="1.8" fill="#000"/>
<rect x="851.6" y="1024.3" width="72.59999999999995" height="1.8" fill="#000"/>
<rect x="851.6" y="1050.6" width="72.59999999999995" height="1.8" fill="#000"/>
<rect x="851.6" y="862.2" width="1.8" height="190.19999999999996" fill="#000"/>
<rect x="922.4" y="862.2" width="1.8" height="190.19999999999996" fill="#000"/>
<text x="888" y="883.5" font-size="14.5" text-anchor="middle" font-weight="normal" fill="#000" stroke="#000" stroke-width="0.3" >ID50</text>
<text x="888" y="908.8" font-size="13" text-anchor="middle" font-weight="normal" fill="#000" stroke="#000" stroke-width="0.3" >&lt;20</text>
<text x="888" y="934.8" font-size="13" text-anchor="middle" font-weight="normal" fill="#000" stroke="#000" stroke-width="0.3" >20-100</text>
<text x="888" y="960.8" font-size="13" text-anchor="middle" font-weight="normal" fill="#000" stroke="#000" stroke-width="0.3" >100-</text>
<text x="888" y="976.5" font-size="13" text-anchor="middle" font-weight="normal" fill="#000" stroke="#000" stroke-width="0.3" >1000</text>
<text x="888" y="1002" font-size="13" text-anchor="middle" font-weight="normal" fill="#fff" stroke="#fff" stroke-width="0.3" >1000-</text>
<text x="888" y="1018" font-size="13" text-anchor="middle" font-weight="normal" fill="#fff" stroke="#fff" stroke-width="0.3" >10,000</text>
<text x="888" y="1043" font-size="13" text-anchor="middle" font-weight="normal" fill="#fff" stroke="#fff" stroke-width="0.3" >&gt;10,000</text>
<path d="M1408,525.4 H1413.6 V664.2 H1408" fill="none" stroke="#000" stroke-width="2.4" stroke-linejoin="miter" stroke-linecap="butt"/>
<text transform="translate(1421.5,591.5) rotate(90)" font-size="15.5" text-anchor="middle" font-weight="normal" fill="#000" stroke="#000" stroke-width="0.3">p &lt; 0.05</text>
<path d="M1408,682.3 H1413.3 V835.3 H1408" fill="none" stroke="#000" stroke-width="2.4" stroke-linejoin="miter" stroke-linecap="butt"/>
<text transform="translate(1425.5,744) rotate(90)" font-size="15.5" text-anchor="middle" font-weight="normal" fill="#000" stroke="#000" stroke-width="0.3">p &lt; 0.05</text>
<path d="M1438.8,721.4 H1443.6 V913.3 H1438.8" fill="none" stroke="#000" stroke-width="2.4" stroke-linejoin="miter" stroke-linecap="butt"/>
<text transform="translate(1454.3,801) rotate(90)" font-size="15.5" text-anchor="middle" font-weight="normal" fill="#000" stroke="#000" stroke-width="0.3">p &lt; 0.004</text>
<path d="M1471,509.1 H1476.6 V929 H1471" fill="none" stroke="#000" stroke-width="2.6" stroke-linejoin="miter" stroke-linecap="butt"/>
<text transform="translate(1488.7,714.2) rotate(90)" font-size="15.5" text-anchor="middle" font-weight="normal" fill="#000" stroke="#000" stroke-width="0.3">p = 0.004</text>
</svg>
</body></html>
